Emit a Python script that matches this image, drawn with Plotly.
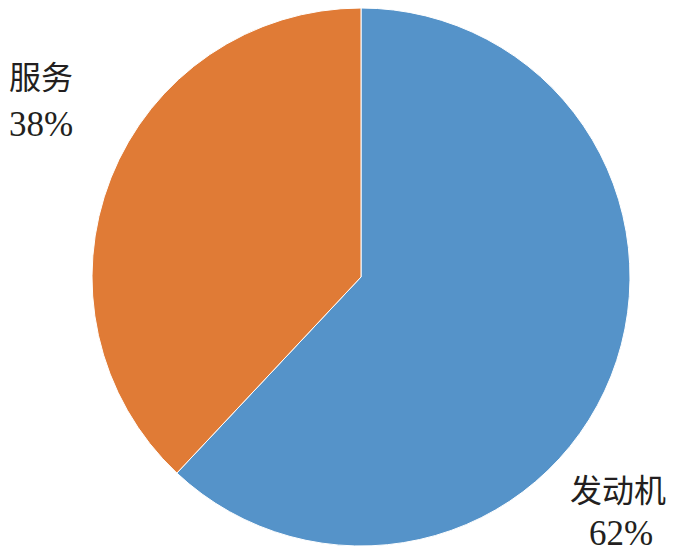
import plotly.graph_objects as go

labels = ["发动机", "服务"]
values = [62, 38]
colors = ["#5593C9", "#E07B36"]

W, H = 675, 557
OFF = 8  # page body margin offset
ml, mr, mt, mb = 84, 53, 0, 19
pw, ph = W - ml - mr, H - mt - mb

def px(x):
    return (x - OFF - ml) / pw

def py(y):
    return (H - mb - (y - OFF)) / ph

fig = go.Figure(go.Pie(
    labels=labels, values=values, sort=False, direction="clockwise", rotation=0,
    marker=dict(colors=colors, line=dict(color="white", width=1)),
    textinfo="none", hoverinfo="label+percent", showlegend=False,
))

cjk_font = dict(family="Noto Sans CJK SC", size=32, color="#231f20")
num_font = dict(family="serif", size=35, color="#231f20")
total = sum(values)
ann = [
    (labels[1], 41, 75, cjk_font),
    (f"{round(values[1] / total * 100)}%", 41, 124, num_font),
    (labels[0], 618, 488, cjk_font),
    (f"{round(values[0] / total * 100)}%", 621, 533, num_font),
]
for t, x, y, f in ann:
    fig.add_annotation(text=t, x=px(x), y=py(y), xref="paper", yref="paper",
                       showarrow=False, xanchor="center", yanchor="middle", font=f)

fig.update_layout(width=W, height=H, margin=dict(l=ml, r=mr, t=mt, b=mb),
                  paper_bgcolor="white", plot_bgcolor="white")
fig.write_html("out.html")
